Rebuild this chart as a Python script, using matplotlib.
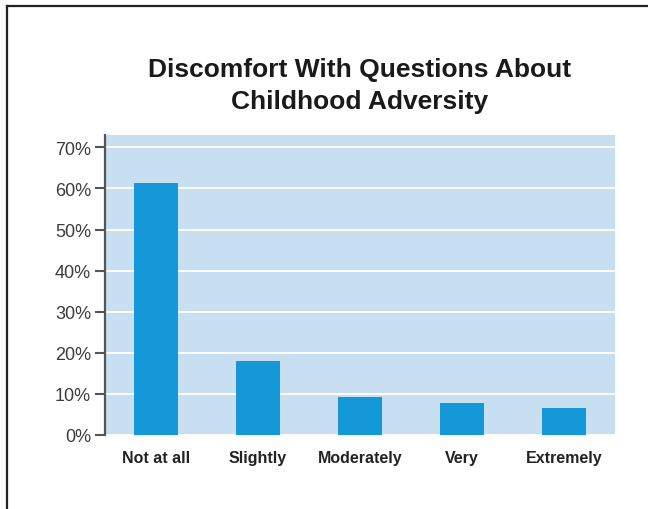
import matplotlib.pyplot as plt
from matplotlib.lines import Line2D

# data
categories = ['Not at all', 'Slightly', 'Moderately', 'Very', 'Extremely']
values = [61.3, 18.0, 9.3, 7.8, 6.6]
yticks = [0, 10, 20, 30, 40, 50, 60, 70]
ytick_labels = ['0%', '10%', '20%', '30%', '40%', '50%', '60%', '70%']

plt.rcParams['font.family'] = ['Liberation Sans', 'DejaVu Sans']

fig = plt.figure(figsize=(6.48, 5.1), dpi=100)
ax = fig.add_axes([105/648, 74/510, 510/648, 300/510])

ax.set_facecolor('#c8dff1')
ax.bar(range(len(categories)), values, width=0.44, color='#1598d8', zorder=3)

ax.set_xlim(-0.5, 4.5)
ax.set_ylim(0, 73)
ax.set_yticks(yticks)
ax.set_yticklabels(ytick_labels, fontsize=13, color='#3c3c3c')
ax.yaxis.grid(True, color='white', linewidth=1.3, zorder=1)
ax.set_axisbelow(True)

ax.set_xticks(range(len(categories)))
ax.set_xticklabels(categories, fontsize=11.5, fontweight='bold', color='#222222')
ax.tick_params(axis='x', length=0, pad=11)
ax.tick_params(axis='y', length=7, width=1.5, color='#555555', pad=3)

for s in ['top', 'right', 'bottom']:
    ax.spines[s].set_visible(False)
ax.spines['left'].set_color('#555555')
ax.spines['left'].set_linewidth(1.6)

# title, two lines
fig.text(360/648, 1 - 86/510, 'Discomfort With Questions About\nChildhood Adversity',
         ha='center', va='center', fontsize=19, fontweight='bold',
         family=['Liberation Sans Narrow', 'Liberation Sans'], color='#1a1a1a',
         linespacing=1.4)

# outer frame lines (left and top)
fig.add_artist(Line2D([7/648, 7/648], [0, 1 - 7/510], transform=fig.transFigure,
                      color='#222222', linewidth=1.6))
fig.add_artist(Line2D([7/648, 1], [1 - 7/510, 1 - 7/510], transform=fig.transFigure,
                      color='#222222', linewidth=1.6))

fig.savefig('out.png', dpi=100)
